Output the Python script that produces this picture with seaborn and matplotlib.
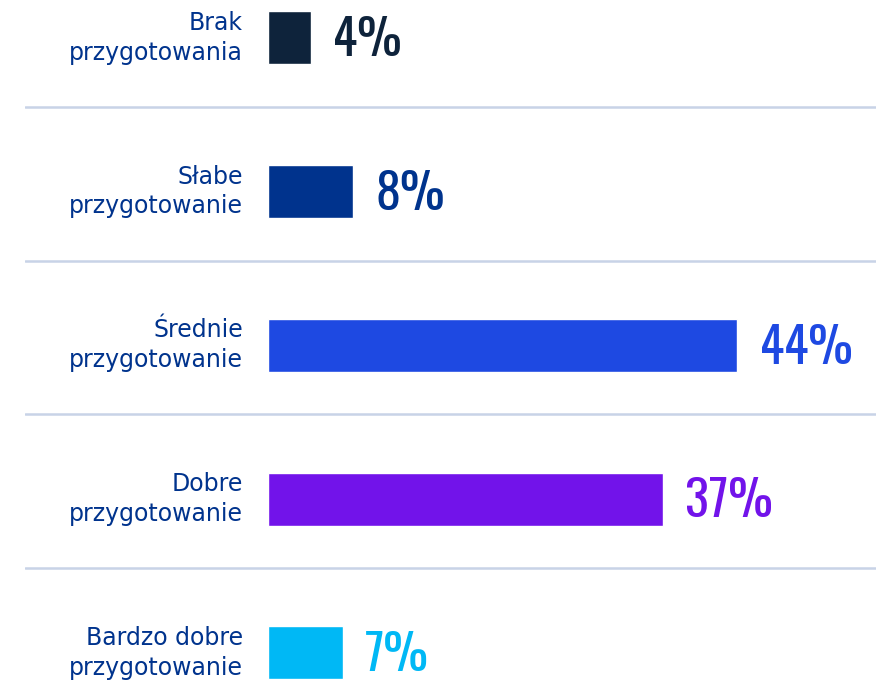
import pandas as pd
import matplotlib.pyplot as plt
import seaborn as sns

## data
categories = ['Brak\nprzygotowania', 'Słabe\nprzygotowanie', 'Średnie\nprzygotowanie',
              'Dobre\nprzygotowanie', 'Bardzo dobre\nprzygotowanie']
shares = [4, 8, 44, 37, 7]
value_labels = ['4%', '8%', '44%', '37%', '7%']
bar_colors = ['#0e233b', '#00338d', '#1e49e2', '#7213ea', '#00b8f5']

df = pd.DataFrame({'category': categories, 'share': shares})

sns.set_theme(style='white')
plt.rcParams['font.family'] = ['DejaVu Sans']

fig = plt.figure(figsize=(8.76, 6.85), dpi=100)
ax = fig.add_axes([25 / 876, 0, 851 / 876, 1])

sns.barplot(data=df, x='share', y='category', hue='category', palette=bar_colors,
            order=categories, width=0.345, legend=False, saturation=1, ax=ax)

# x scale: bars start at 268px, ~10.66px per percent
ax.set_xlim(-22.8, 57.0)
ax.set_ylim(4.209, -0.245)

## separators between rows
for i in range(len(categories) - 1):
    ax.axhline(i + 0.45, color='#c8d3e7', lw=1.8, zorder=0)

## category labels on the left
for i, cat in enumerate(categories):
    ax.text(-2.35, i, cat, ha='right', va='center', fontsize=17,
            color='#00338d', linespacing=1.3)

## value labels (condensed bold face)
for i, (val, lab) in enumerate(zip(shares, value_labels)):
    ax.annotate(lab, xy=(val, i), xytext=(16, -2), textcoords='offset points',
                ha='left', va='center', fontsize=36, fontweight='bold',
                family=['Oswald', 'Barlow Condensed', 'DejaVu Sans'],
                color=bar_colors[i])

ax.set(xlabel='', ylabel='', xticks=[], yticks=[])
sns.despine(ax=ax, left=True, bottom=True)

plt.savefig('out.png', dpi=100)
